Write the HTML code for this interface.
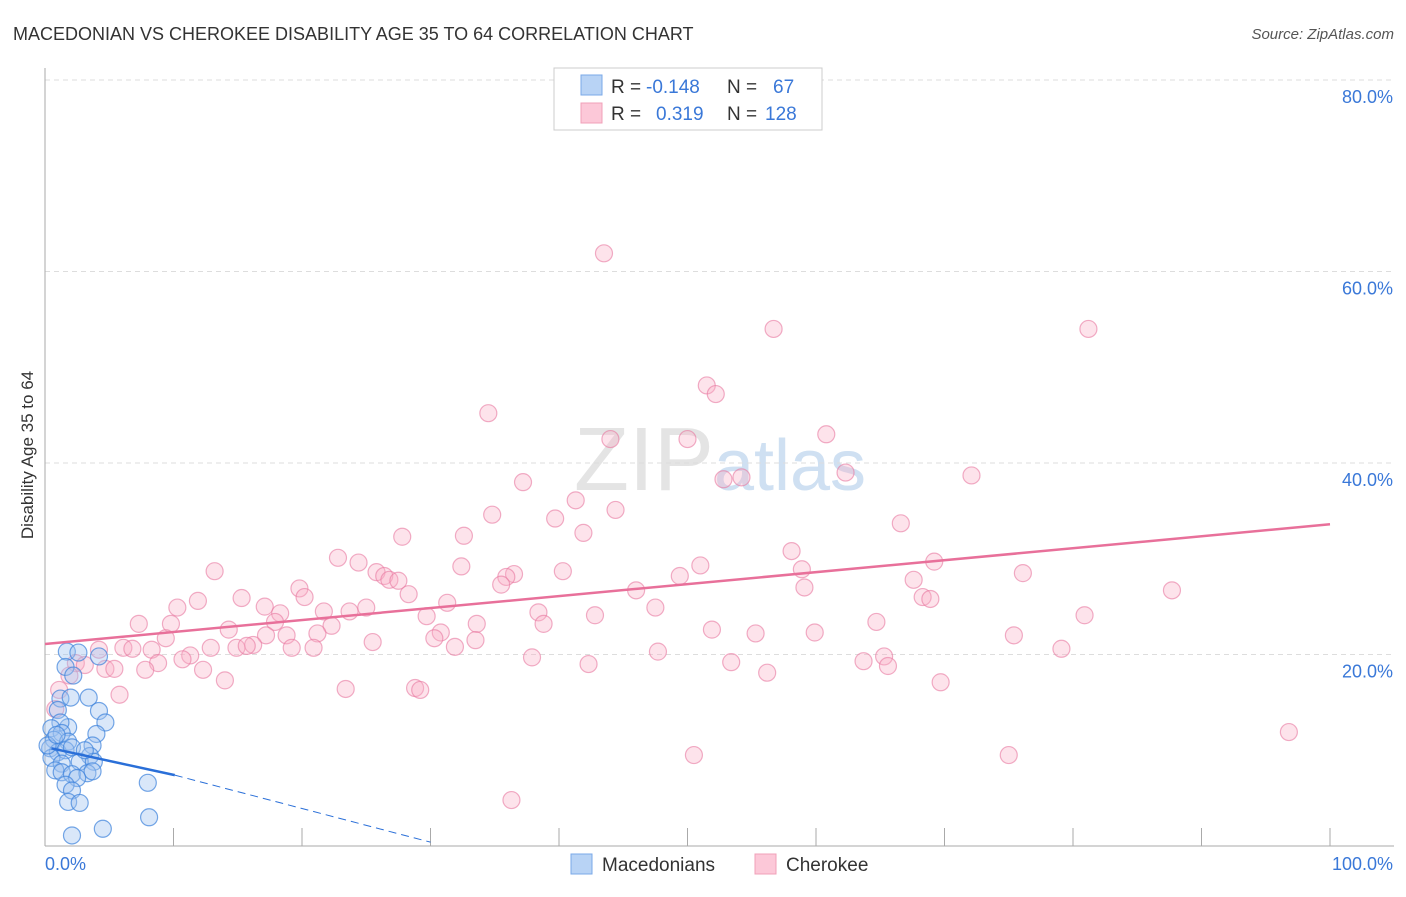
<!DOCTYPE html>
<html><head><meta charset="utf-8"><style>
body{margin:0;background:#fff;font-family:"Liberation Sans",sans-serif;}
svg text{font-family:"Liberation Sans",sans-serif;}
</style></head><body>
<svg id="chart" width="1406" height="892" viewBox="0 0 1406 892" xmlns="http://www.w3.org/2000/svg">
<text x="13" y="40" font-size="18" fill="#333">MACEDONIAN VS CHEROKEE DISABILITY AGE 35 TO 64 CORRELATION CHART</text>
<text x="1394" y="39" font-size="15" fill="#555" font-style="italic" text-anchor="end">Source: ZipAtlas.com</text>
<text x="720" y="490" font-size="90" fill="#e4e4e4" text-anchor="middle" font-family="Liberation Serif">ZIP<tspan fill="#cfe0f2" font-family="Liberation Sans" font-size="72">atlas</tspan></text>
<g id="grid"></g>
<g id="axes"></g>
<g id="pink"></g>
<g id="blue"></g>
<g id="lines"></g>
<text transform="translate(33,455) rotate(-90)" font-size="17" fill="#333" text-anchor="middle">Disability Age 35 to 64</text>
<g>
<rect x="554" y="68" width="268" height="62" fill="#fff" stroke="#ccc"/>
<rect x="581" y="75" width="21" height="20" fill="#b8d3f5" stroke="#7aa8e8"/>
<rect x="581" y="103" width="21" height="20" fill="#fcc8d8" stroke="#f0a0b8"/>
<text x="611" y="93" font-size="19" fill="#333">R =</text><text x="646" y="93" font-size="19" fill="#3a78d8">-0.148</text>
<text x="727" y="93" font-size="19" fill="#333">N =</text><text x="773" y="93" font-size="19" fill="#3a78d8">67</text>
<text x="611" y="120" font-size="19" fill="#333">R =</text><text x="656" y="120" font-size="19" fill="#3a78d8">0.319</text>
<text x="727" y="120" font-size="19" fill="#333">N =</text><text x="765" y="120" font-size="19" fill="#3a78d8">128</text>
</g>
<g>
<rect x="571" y="854" width="21" height="20" fill="#b8d3f5" stroke="#7aa8e8"/>
<text x="602" y="871" font-size="19" fill="#333">Macedonians</text>
<rect x="755" y="854" width="21" height="20" fill="#fcc8d8" stroke="#f0a0b8"/>
<text x="786" y="871" font-size="19" fill="#333">Cherokee</text>
</g>
</svg>
<script>
const yTicks=[20,40,60,80];
const yTickLabels=["20.0%","40.0%","60.0%","80.0%"];
const xTickLabels=["0.0%","100.0%"];
const pinkX=[43.5,56.7,81.2,51.5,52.2,34.5,60.8,44.0,50.0,62.3,72.1,52.8,54.2,37.2,41.3,44.4,34.8,39.7,66.6,32.6,41.9,27.8,58.1,22.8,24.4,51.0,69.2,32.4,40.3,25.8,13.2,58.9,76.1,26.4,36.5,35.9,49.4,26.8,27.5,67.6,35.5,19.8,59.1,46.0,20.2,28.3,87.7,68.3,68.9,15.3,11.9,31.3,17.1,10.3,21.7,25.0,23.7,47.5,18.3,38.4,42.8,29.7,80.9,64.7,7.3,9.8,17.9,22.3,33.6,38.8,51.9,14.3,21.2,59.9,55.3,18.8,17.2,9.4,30.8,30.3,75.4,25.5,33.5,16.2,14.9,15.7,12.9,19.2,20.9,6.1,6.8,8.3,4.2,31.9,47.7,79.1,11.3,10.7,37.9,65.3,63.7,65.6,8.8,2.4,3.1,4.7,5.4,7.8,12.3,42.3,53.4,56.2,1.9,14.0,69.7,23.4,28.8,29.2,1.1,5.8,0.8,96.8,50.5,75.0,36.3];
const pinkY=[61.9,54.0,54.0,48.1,47.2,45.2,43.0,42.5,42.5,39.0,38.7,38.3,38.5,38.0,36.1,35.1,34.6,34.2,33.7,32.4,32.7,32.3,30.8,30.1,29.6,29.3,29.7,29.2,28.7,28.6,28.7,28.9,28.5,28.2,28.4,28.1,28.2,27.8,27.7,27.8,27.3,26.9,27.0,26.7,26.0,26.3,26.7,26.0,25.8,25.9,25.6,25.4,25.0,24.9,24.5,24.9,24.5,24.9,24.3,24.4,24.1,24.0,24.1,23.4,23.2,23.2,23.4,23.0,23.2,23.2,22.6,22.6,22.2,22.3,22.2,22.0,22.0,21.7,22.3,21.7,22.0,21.3,21.5,21.0,20.7,20.9,20.7,20.7,20.7,20.7,20.6,20.5,20.5,20.8,20.3,20.6,19.9,19.5,19.7,19.8,19.3,18.8,19.1,19.1,18.9,18.5,18.5,18.4,18.4,19.0,19.2,18.1,17.8,17.3,17.1,16.4,16.5,16.3,16.3,15.8,14.3,11.9,9.5,9.5,4.8];
const blueX=[1.7,2.6,4.2,1.6,2.2,1.2,3.4,2.0,1.0,4.2,4.7,1.8,1.2,0.5,4.0,1.3,0.7,1.8,3.7,0.4,1.0,1.6,2.1,3.5,0.5,1.3,2.7,3.8,0.8,1.3,2.1,3.3,3.7,2.5,1.6,8.0,2.1,1.8,2.7,2.1,4.5,8.1,0.2,0.9,3.1];
const blueY=[20.3,20.2,19.8,18.7,17.8,15.4,15.5,15.5,14.2,14.1,12.9,12.4,12.9,12.3,11.7,11.8,11.1,10.9,10.5,10.2,9.8,10.0,10.3,9.4,9.2,8.6,8.8,8.8,7.9,7.7,7.5,7.6,7.8,7.1,6.4,6.6,5.8,4.6,4.5,1.1,1.8,3.0,10.5,11.6,10.0];
const pinkTrend=[0,21.1,100,33.6];
const blueTrend=[0.5,10.2,10.1,7.4,30,0.4];
const NS="http://www.w3.org/2000/svg";
const X0=45,X1=1330,Y0=846,Y80=80;
const sx=v=>X0+(X1-X0)*v/100;
const sy=v=>Y0-(Y0-Y80)*v/80;
function mk(tag,attrs,parent){const e=document.createElementNS(NS,tag);for(const k in attrs)e.setAttribute(k,attrs[k]);parent.appendChild(e);return e;}
const grid=document.getElementById('grid'),axes=document.getElementById('axes');
yTicks.forEach((t,i)=>{
 const l=mk('line',{x1:X0,x2:1394,y1:sy(t),y2:sy(t),stroke:'#ddd','stroke-dasharray':'5,4'},grid);
 
 
 const tx=mk('text',{x:1393,y:sy(t)+23,'font-size':18,fill:'#3a78d8','text-anchor':'end'},axes);
 tx.textContent=yTickLabels[i];
 
 
});
mk('line',{x1:X0,x2:X0,y1:68,y2:Y0,stroke:'#aaa'},axes);
mk('line',{x1:X0,x2:1394,y1:Y0,y2:Y0,stroke:'#aaa'},axes);
for(let i=1;i<=10;i++){mk('line',{x1:sx(i*10),x2:sx(i*10),y1:828,y2:Y0,stroke:'#aaa'},axes);}
const xl0=mk('text',{x:45,y:870,'font-size':18,fill:'#3a78d8'},axes);xl0.textContent=xTickLabels[0];


const xl1=mk('text',{x:1393,y:870,'font-size':18,fill:'#3a78d8','text-anchor':'end'},axes);xl1.textContent=xTickLabels[1];


const pg=document.getElementById('pink');
pinkX.forEach((x,i)=>{const c=mk('circle',{cx:sx(x),cy:sy(pinkY[i]),r:8.5,fill:'rgba(248,175,198,0.35)',stroke:'rgba(232,120,160,0.6)','stroke-width':1.2},pg);
 
 });
const bg=document.getElementById('blue');
blueX.forEach((x,i)=>{const c=mk('circle',{cx:sx(x),cy:sy(blueY[i]),r:8.5,fill:'rgba(160,195,240,0.4)',stroke:'rgba(60,130,220,0.7)','stroke-width':1.2},bg);
 
 });
const lg=document.getElementById('lines');
const pl=mk('line',{x1:sx(pinkTrend[0]),y1:sy(pinkTrend[1]),x2:sx(pinkTrend[2]),y2:sy(pinkTrend[3]),stroke:'#e8709a','stroke-width':2.5},lg);


const bl=mk('line',{x1:sx(blueTrend[0]),y1:sy(blueTrend[1]),x2:sx(blueTrend[2]),y2:sy(blueTrend[3]),stroke:'#2a6fd8','stroke-width':2.5},lg);


const bd=mk('line',{x1:sx(blueTrend[2]),y1:sy(blueTrend[3]),x2:sx(blueTrend[4]),y2:sy(blueTrend[5]),stroke:'#2a6fd8','stroke-width':1,'stroke-dasharray':'8,5'},lg);


</script>
</body></html>
